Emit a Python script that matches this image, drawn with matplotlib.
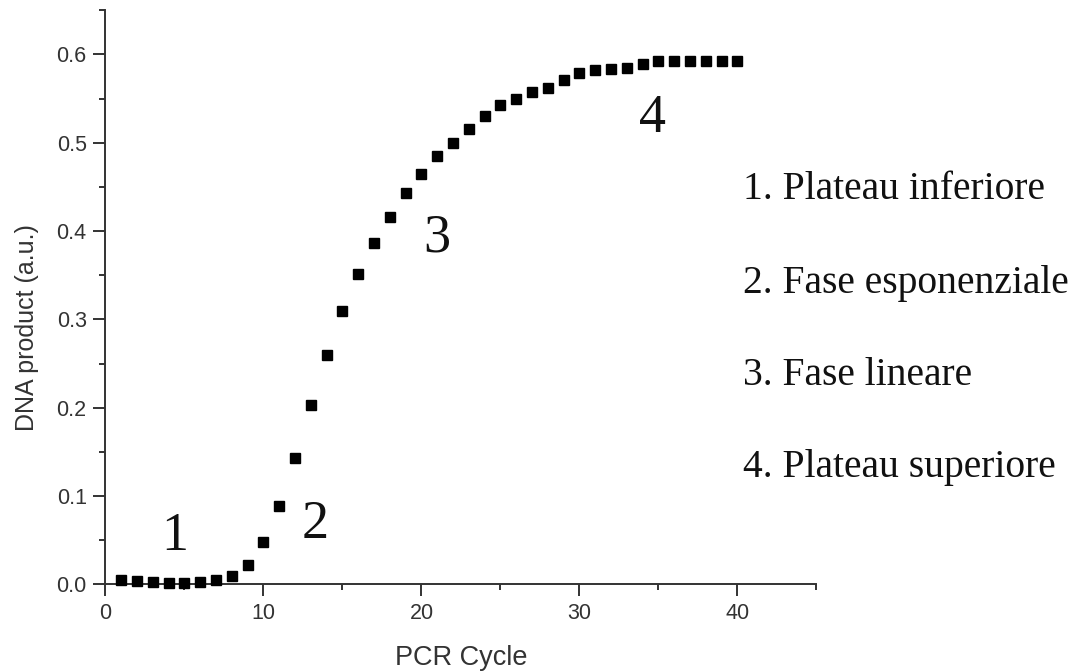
import matplotlib
matplotlib.use("Agg")
import matplotlib.pyplot as plt
from matplotlib.ticker import MultipleLocator

cycles = list(range(1, 41))
dna_product = [0.005, 0.004, 0.003, 0.002, 0.002, 0.003, 0.005, 0.009, 0.022, 0.048,
               0.089, 0.143, 0.203, 0.260, 0.309, 0.351, 0.386, 0.4155, 0.443, 0.465,
               0.485, 0.500, 0.515, 0.530, 0.543, 0.550, 0.557, 0.562, 0.571, 0.579,
               0.582, 0.583, 0.585, 0.589, 0.592, 0.593, 0.593, 0.592, 0.592, 0.592]

phase_labels = ["1", "2", "3", "4"]
phase_x = [4.41, 13.27, 21.0, 34.6]
phase_y = [0.0388, 0.0521, 0.3766, 0.5124]

legend_lines = ["1. Plateau inferiore", "2. Fase esponenziale",
                "3. Fase lineare", "4. Plateau superiore"]

fig = plt.figure(figsize=(10.79, 6.72), dpi=100)
ax = fig.add_axes([0.0977, 0.1305, 0.659, 0.8543])

ax.plot(cycles, dna_product, linestyle="none", marker="s", markersize=7.8,
        color="black", clip_on=False, zorder=3)

ax.set_xlim(0, 45)
ax.set_ylim(0, 0.65)
ax.xaxis.set_major_locator(MultipleLocator(10))
ax.xaxis.set_minor_locator(MultipleLocator(5))
ax.yaxis.set_major_locator(MultipleLocator(0.1))
ax.yaxis.set_minor_locator(MultipleLocator(0.05))
ax.yaxis.set_major_formatter(plt.FuncFormatter(lambda v, p: f"{v:.1f}"))

for s in ["top", "right"]:
    ax.spines[s].set_visible(False)
for s in ["left", "bottom"]:
    ax.spines[s].set_linewidth(1.4)
    ax.spines[s].set_color("#333333")

ax.tick_params(which="major", direction="out", length=8.5, width=1.4,
               color="#333333", labelsize=15.5, labelcolor="#333333", pad=5,
               labelfontfamily="Liberation Sans")
ax.tick_params(which="minor", direction="out", length=4.5, width=1.4, color="#333333")

ax.set_xlabel("PCR Cycle", fontsize=19.5, family="Liberation Sans", color="#333333")
ax.xaxis.set_label_coords(0.5, -0.105)
ax.set_ylabel("DNA product (a.u.)", fontsize=18, family="Liberation Sans", color="#333333")
ax.yaxis.set_label_coords(-0.093, 0.4465)

for lab, x, y in zip(phase_labels, phase_x, phase_y):
    ax.text(x, y, lab, fontsize=39, family="Liberation Serif", ha="center",
            va="baseline", color="#111111")

legend_y = [0.7034, 0.5635, 0.4271, 0.2907]
for txt, y in zip(legend_lines, legend_y):
    fig.text(0.6886, y, txt, fontsize=28.5, family="Liberation Serif",
             ha="left", va="baseline", color="#111111")

fig.savefig("out.png", dpi=100)
